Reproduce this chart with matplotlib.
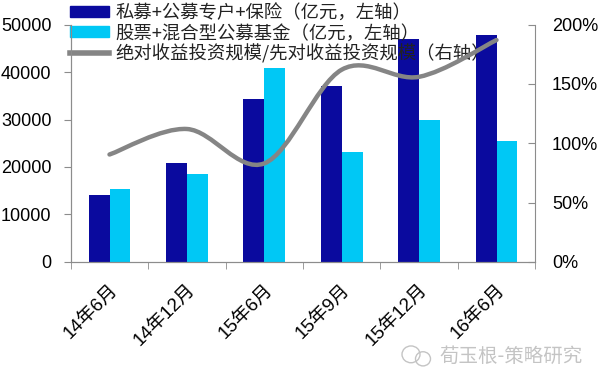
import numpy as np
import matplotlib
matplotlib.use("Agg")
import matplotlib.pyplot as plt
from matplotlib.path import Path
from matplotlib.patches import PathPatch, Ellipse
from matplotlib.lines import Line2D

plt.rcParams['font.family'] = ['Liberation Sans', 'Noto Sans CJK SC']

# data
periods = ['14年6月', '14年12月', '15年6月', '15年9月', '15年12月', '16年6月']
private_insur = [14000, 20900, 34300, 37000, 46900, 47900]   # 亿元
stock_mixed = [15300, 18600, 40800, 23200, 29800, 25500]     # 亿元
abs_ratio = [90.5, 112, 83, 162, 156, 187]                   # %

lbl_dark = '私募+公募专户+保险（亿元，左轴）'
lbl_light = '股票+混合型公募基金（亿元，左轴）'
lbl_line = '绝对收益投资规模/先对收益投资规模（右轴）'

c_dark = '#0a0a9e'
c_light = '#00c8f5'
c_line = '#858585'
c_axis = '#8c8c8c'

fig = plt.figure(figsize=(6, 3.73), dpi=100)
ax = fig.add_axes([0.118, 0.298, 0.774, 0.636])
ax2 = ax.twinx()

x = np.arange(len(periods))
w = 0.27
ax.bar(x - w / 2, private_insur, w, color=c_dark, zorder=2)
ax.bar(x + w / 2, stock_mixed, w, color=c_light, zorder=2)

# smoothed line (excel style), bezier through the points
pts = np.column_stack([x, abs_ratio]).astype(float)
verts = [pts[0]]
codes = [Path.MOVETO]
n = len(pts)
for i in range(n - 1):
    p0 = pts[max(i - 1, 0)]
    p1 = pts[i]
    p2 = pts[i + 1]
    p3 = pts[min(i + 2, n - 1)]
    verts += [p1 + (p2 - p0) / 6, p2 - (p3 - p1) / 6, p2]
    codes += [Path.CURVE4] * 3
ax2.add_patch(PathPatch(Path(verts, codes), fill=False, edgecolor=c_line,
                        lw=3.2, capstyle='round', zorder=3))

ax.set_xlim(-0.5, len(periods) - 0.5)
ax.set_ylim(0, 50000)
ax2.set_ylim(0, 200)
ax.set_yticks(range(0, 50001, 10000))
ax2.set_yticks(range(0, 201, 50))
ax2.set_yticklabels([f'{v}%' for v in range(0, 201, 50)])

ax.set_xticks(x)
ax.set_xticklabels(periods, rotation=45, ha='right', va='top', rotation_mode='anchor')
ax.set_xticks(np.arange(-0.5, len(periods)), minor=True)
ax.tick_params(axis='x', which='major', length=0, pad=14, labelsize=13.5)
ax.tick_params(axis='x', which='minor', length=5, color=c_axis, direction='out')
ax.tick_params(axis='y', length=5, color=c_axis, direction='out', pad=9, labelsize=13)
ax2.tick_params(axis='y', length=5, color=c_axis, direction='in', pad=12, labelsize=13)

for a in (ax, ax2):
    a.spines['top'].set_visible(False)
    for s in ('left', 'right', 'bottom'):
        a.spines[s].set_color(c_axis)
ax.spines['right'].set_visible(False)

handles = [plt.Rectangle((0, 0), 1, 1, color=c_dark),
           plt.Rectangle((0, 0), 1, 1, color=c_light),
           Line2D([], [], color=c_line, lw=4)]
leg = ax.legend(handles, [lbl_dark, lbl_light, lbl_line], loc='upper left',
                bbox_to_anchor=(0.105, 1.008), bbox_transform=fig.transFigure,
                frameon=False, handlelength=2.1, handleheight=0.55,
                handletextpad=0.35, labelspacing=0.1, borderaxespad=0,
                prop={'family': ['Noto Sans CJK SC'], 'size': 13.2})
for t in leg.get_texts():
    t.set_color('#222222')

# watermark
fig.text(0.972, 0.045, '荀玉根-策略研究', ha='right', va='center',
         color='#c4c4c4', fontsize=14, family=['Noto Sans CJK SC'])
fig.patches.append(Ellipse((0.685, 0.05), 0.03, 0.045, transform=fig.transFigure,
                           fill=False, edgecolor='#c4c4c4', lw=1))
fig.patches.append(Ellipse((0.705, 0.038), 0.025, 0.038, transform=fig.transFigure,
                           fill=False, edgecolor='#c4c4c4', lw=1))

fig.savefig('out.png', dpi=100)
